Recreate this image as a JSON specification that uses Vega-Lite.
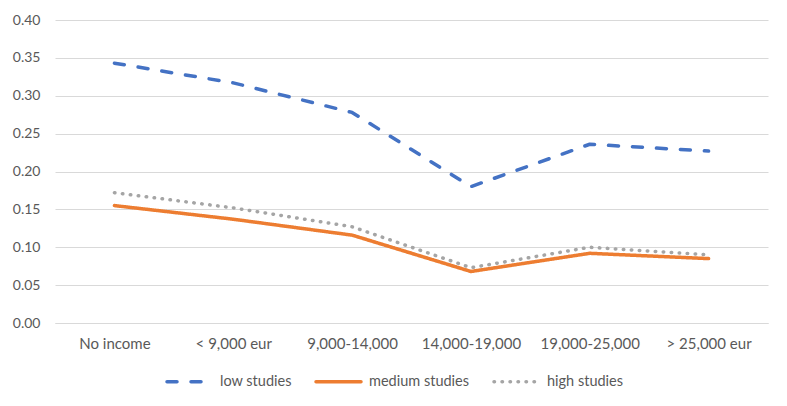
{
  "$schema": "https://vega.github.io/schema/vega-lite/v6.json",
  "width": 713,
  "height": 303,
  "autosize": "none",
  "padding": {"left": 55, "top": 20, "right": 19, "bottom": 83},
  "background": "white",
  "config": {
    "font": "Lato",
    "view": {"stroke": null},
    "axis": {"labelFont": "Lato", "labelColor": "#595959"},
    "axisX": {"labelFontSize": 15},
    "axisY": {"labelFontSize": 14},
    "legend": {"labelFont": "Lato", "labelFontSize": 14.5, "labelColor": "#595959"}
  },
  "data": {
    "values": [
      {"income": "No income", "series": "low studies", "value": 0.343},
      {"income": "< 9,000 eur", "series": "low studies", "value": 0.317},
      {"income": "9,000-14,000", "series": "low studies", "value": 0.278},
      {"income": "14,000-19,000", "series": "low studies", "value": 0.180},
      {"income": "19,000-25,000", "series": "low studies", "value": 0.236},
      {"income": "> 25,000 eur", "series": "low studies", "value": 0.227},
      {"income": "No income", "series": "medium studies", "value": 0.155},
      {"income": "< 9,000 eur", "series": "medium studies", "value": 0.137},
      {"income": "9,000-14,000", "series": "medium studies", "value": 0.116},
      {"income": "14,000-19,000", "series": "medium studies", "value": 0.068},
      {"income": "19,000-25,000", "series": "medium studies", "value": 0.092},
      {"income": "> 25,000 eur", "series": "medium studies", "value": 0.085},
      {"income": "No income", "series": "high studies", "value": 0.172},
      {"income": "< 9,000 eur", "series": "high studies", "value": 0.152},
      {"income": "9,000-14,000", "series": "high studies", "value": 0.127},
      {"income": "14,000-19,000", "series": "high studies", "value": 0.073},
      {"income": "19,000-25,000", "series": "high studies", "value": 0.100},
      {"income": "> 25,000 eur", "series": "high studies", "value": 0.090}
    ]
  },
  "mark": {"type": "line", "strokeCap": "round", "strokeJoin": "round"},
  "encoding": {
    "x": {
      "field": "income", "type": "nominal",
      "sort": ["No income", "< 9,000 eur", "9,000-14,000", "14,000-19,000", "19,000-25,000", "> 25,000 eur"],
      "scale": {"type": "point", "padding": 0.5},
      "axis": {"title": null, "labelAngle": 0, "ticks": false, "domain": true, "domainColor": "#d9d9d9", "domainWidth": 1, "labelPadding": 13}
    },
    "y": {
      "field": "value", "type": "quantitative",
      "scale": {"domain": [0, 0.4], "nice": false},
      "axis": {"title": null, "values": [0, 0.05, 0.1, 0.15, 0.2, 0.25, 0.3, 0.35, 0.4], "format": ".2f", "ticks": false, "domain": false, "gridColor": "#d9d9d9", "gridWidth": 1, "labelPadding": 15}
    },
    "color": {
      "field": "series", "type": "nominal",
      "scale": {"domain": ["low studies", "medium studies", "high studies"], "range": ["#4472C4", "#ED7D31", "#A5A5A5"]},
      "legend": {
        "title": null, "orient": "none", "legendX": 110, "legendY": 337, "direction": "horizontal",
        "symbolType": "stroke", "symbolSize": 2025, "symbolStrokeWidth": 3.5, "columnPadding": 17, "labelOffset": 6,
        "encode": {"symbols": {"update": {"strokeCap": {"value": "round"}}}}
      }
    },
    "strokeDash": {
      "field": "series", "type": "nominal",
      "scale": {"domain": ["low studies", "medium studies", "high studies"], "range": [[10, 14], [1, 0], [0.5, 7.5]]}
    },
    "strokeWidth": {
      "field": "series", "type": "nominal",
      "scale": {"domain": ["low studies", "medium studies", "high studies"], "range": [3.5, 3.5, 3.2]},
      "legend": null
    }
  }
}
